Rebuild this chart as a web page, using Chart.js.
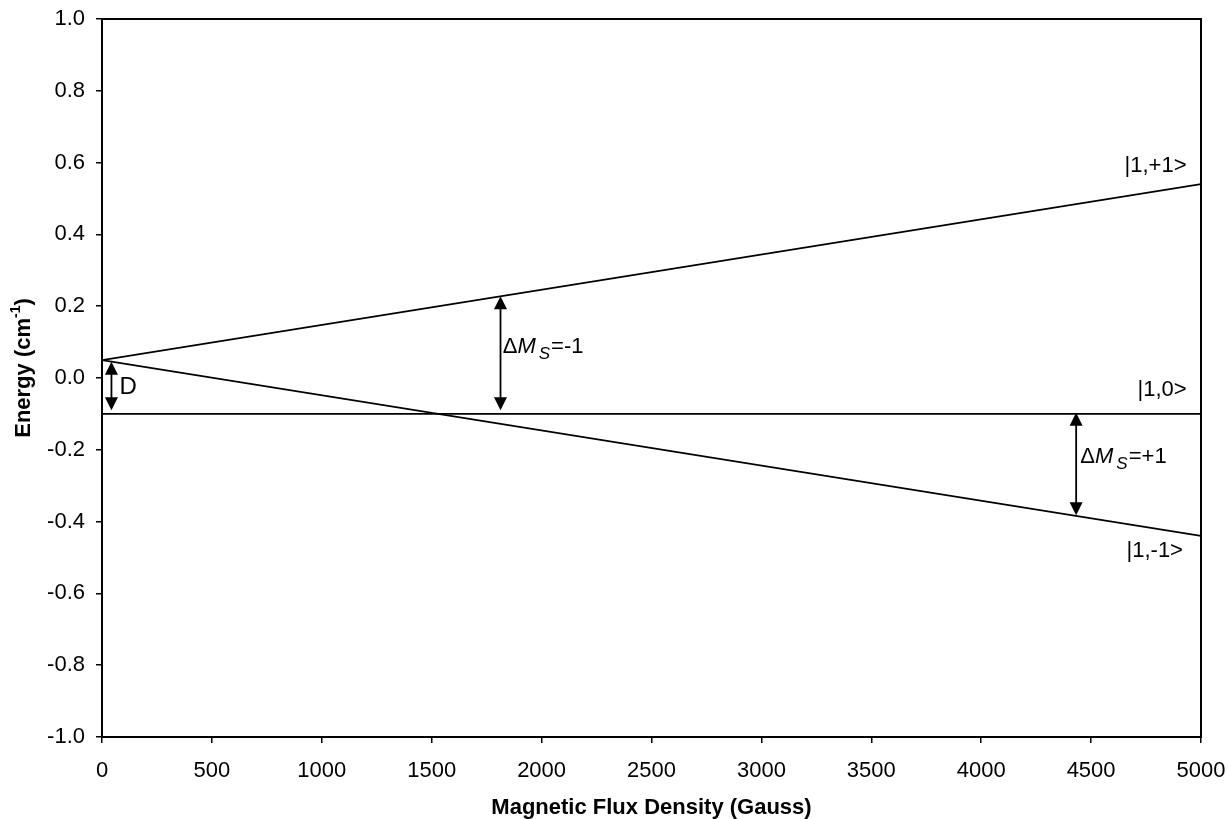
<!DOCTYPE html>
<html>
<head>
<meta charset="utf-8">
<script src="https://cdn.jsdelivr.net/npm/chart.js@4.4.1/dist/chart.umd.min.js"></script>
<style>
  html, body { margin: 0; padding: 0; background: #fff; }
  #wrap { width: 1228px; height: 819px; }
</style>
</head>
<body>
<div id="wrap"><canvas id="chart" width="1228" height="819"></canvas></div>
<script>
// field values (Gauss) and energies (cm^-1)
const fieldGauss = [0, 5000];
const levelPlusOne = [0.05, 0.54];
const levelZero = [-0.1, -0.1];
const levelMinusOne = [0.05, -0.44];

const xTicks = [0, 500, 1000, 1500, 2000, 2500, 3000, 3500, 4000, 4500, 5000];
const yTicks = [-1.0, -0.8, -0.6, -0.4, -0.2, 0.0, 0.2, 0.4, 0.6, 0.8, 1.0];

// double-headed arrows: field position, upper and lower energy
const arrowField = [43, 1813, 4432];
const arrowTop = [0.045, 0.228, -0.097];
const arrowBottom = [-0.09, -0.09, -0.382];

const levelNames = ['|1,+1>', '|1,0>', '|1,-1>'];

const FONT = '"Liberation Sans", Arial, sans-serif';

function toPoints(ys) {
  return fieldGauss.map((x, i) => ({ x: x, y: ys[i] }));
}

function lineSet(ys) {
  return {
    data: toPoints(ys),
    borderColor: '#000',
    borderWidth: 1.8,
    pointRadius: 0,
    tension: 0,
    fill: false
  };
}

function arrowHead(ctx, x, y, dir) {
  // dir = -1 points up, +1 points down
  ctx.beginPath();
  ctx.moveTo(x, y);
  ctx.lineTo(x - 6.5, y - dir * 13);
  ctx.lineTo(x + 6.5, y - dir * 13);
  ctx.closePath();
  ctx.fill();
}

// frame, arrows, state labels and the y title with its superscript
const extras = {
  id: 'extras',
  afterDraw(chart) {
    const { ctx, chartArea, scales } = chart;
    const xs = scales.x, ys = scales.y;
    ctx.save();
    ctx.strokeStyle = '#000';
    ctx.fillStyle = '#000';

    ctx.lineWidth = 2;
    ctx.strokeRect(chartArea.left, chartArea.top,
      chartArea.right - chartArea.left, chartArea.bottom - chartArea.top);

    ctx.lineWidth = 1.8;
    arrowField.forEach((b, i) => {
      const px = xs.getPixelForValue(b);
      const t = ys.getPixelForValue(arrowTop[i]);
      const bt = ys.getPixelForValue(arrowBottom[i]);
      ctx.beginPath();
      ctx.moveTo(px, t + 10);
      ctx.lineTo(px, bt - 10);
      ctx.stroke();
      arrowHead(ctx, px, t, -1);
      arrowHead(ctx, px, bt, 1);
    });

    ctx.textBaseline = 'alphabetic';
    ctx.textAlign = 'left';
    ctx.font = '22px ' + FONT;
    ctx.fillText(levelNames[0], xs.getPixelForValue(4652), ys.getPixelForValue(0.574));
    ctx.fillText(levelNames[1], xs.getPixelForValue(4711), ys.getPixelForValue(-0.05));
    ctx.fillText(levelNames[2], xs.getPixelForValue(4661), ys.getPixelForValue(-0.499));

    ctx.font = '24px ' + FONT;
    ctx.fillText('D', xs.getPixelForValue(80), ys.getPixelForValue(-0.045));

    function deltaMs(x, y, rest) {
      ctx.font = '22px ' + FONT;
      ctx.fillText('\u0394', x, y);
      x += ctx.measureText('\u0394').width;
      ctx.font = 'italic 22px ' + FONT;
      ctx.fillText('M', x, y);
      x += ctx.measureText('M').width + 3;
      ctx.font = 'italic 17px ' + FONT;
      ctx.fillText('S', x, y + 6);
      x += ctx.measureText('S').width + 1;
      ctx.font = '22px ' + FONT;
      ctx.fillText(rest, x, y);
    }
    deltaMs(xs.getPixelForValue(1823), ys.getPixelForValue(0.07), '=-1');
    deltaMs(xs.getPixelForValue(4451), ys.getPixelForValue(-0.237), '=+1');

    // y axis title, rotated, with superscript -1
    const main = 'Energy (cm', sup = '-1', close = ')';
    ctx.font = 'bold 22px ' + FONT;
    const w1 = ctx.measureText(main).width;
    const w3 = ctx.measureText(close).width;
    ctx.font = 'bold 14px ' + FONT;
    const w2 = ctx.measureText(sup).width;
    const total = w1 + w2 + w3;
    ctx.translate(30, 368);
    ctx.rotate(-Math.PI / 2);
    let tx = -total / 2;
    ctx.font = 'bold 22px ' + FONT;
    ctx.fillText(main, tx, 0);
    tx += w1;
    ctx.font = 'bold 14px ' + FONT;
    ctx.fillText(sup, tx, -10);
    tx += w2;
    ctx.font = 'bold 22px ' + FONT;
    ctx.fillText(close, tx, 0);
    ctx.restore();
  }
};

new Chart(document.getElementById('chart').getContext('2d'), {
  type: 'line',
  data: {
    datasets: [lineSet(levelPlusOne), lineSet(levelZero), lineSet(levelMinusOne)]
  },
  options: {
    responsive: false,
    animation: false,
    layout: { padding: { top: 19, right: 27, left: 0, bottom: 0 } },
    plugins: {
      legend: { display: false },
      tooltip: { enabled: false },
      title: { display: false }
    },
    scales: {
      x: {
        type: 'linear',
        min: 0,
        max: 5000,
        afterFit(scale) {
          scale.height = 82;
          scale.paddingLeft = 0;
          scale.paddingRight = 0;
        },
        afterBuildTicks(scale) { scale.ticks = xTicks.map(v => ({ value: v })); },
        grid: { drawOnChartArea: false, drawTicks: true, tickLength: 6, color: '#000', lineWidth: 1.5 },
        border: { display: true, color: '#000', width: 2 },
        ticks: {
          color: '#000',
          padding: 15,
          maxRotation: 0,
          autoSkip: false,
          font: { family: FONT, size: 22 },
          callback: v => String(v)
        },
        title: {
          display: true,
          text: 'Magnetic Flux Density (Gauss)',
          color: '#000',
          font: { family: FONT, size: 22, weight: 'bold' },
          padding: { top: 0, bottom: -2 }
        }
      },
      y: {
        type: 'linear',
        min: -1,
        max: 1,
        afterFit(scale) {
          scale.width = 102;
          scale.paddingTop = 0;
          scale.paddingBottom = 0;
        },
        afterBuildTicks(scale) { scale.ticks = yTicks.map(v => ({ value: v })); },
        grid: { drawOnChartArea: false, drawTicks: true, tickLength: 6, color: '#000', lineWidth: 1.5 },
        border: { display: true, color: '#000', width: 2 },
        ticks: {
          color: '#000',
          padding: 11,
          autoSkip: false,
          font: { family: FONT, size: 22 },
          callback: v => v.toFixed(1)
        }
      }
    }
  },
  plugins: [extras]
});
</script>
</body>
</html>
